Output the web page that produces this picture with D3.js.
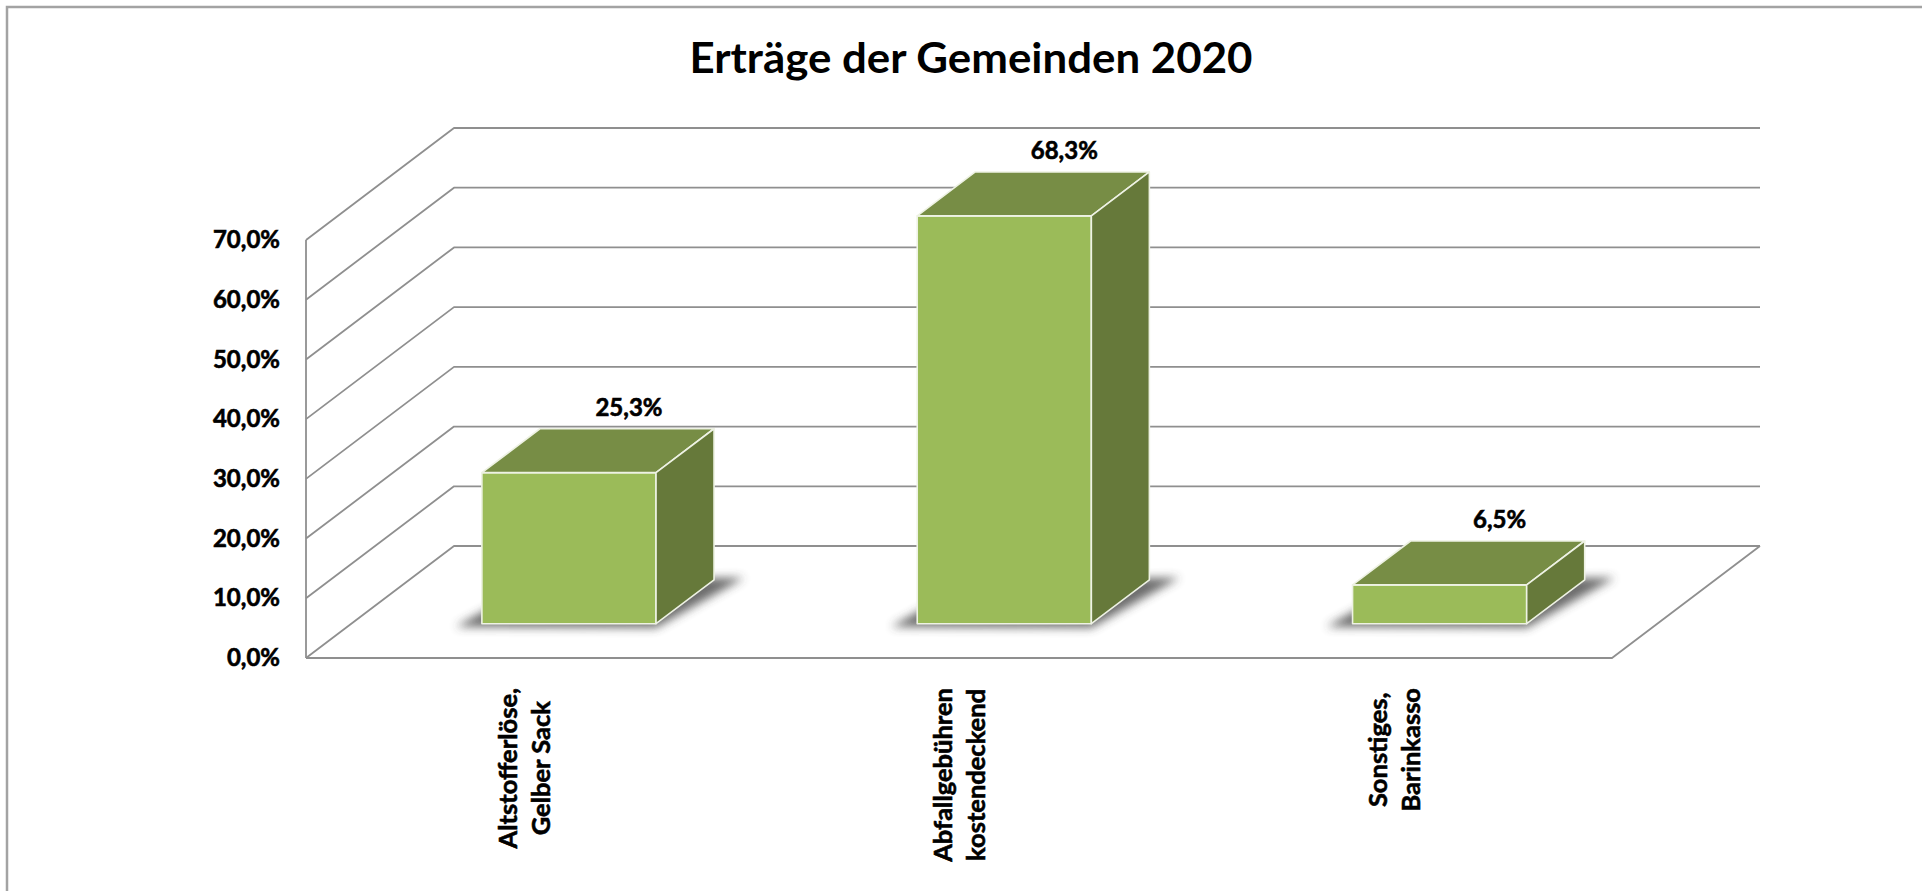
<!DOCTYPE html>
<meta charset="utf-8">
<body style="margin:0;background:#fff;overflow:hidden">
<script src="https://d3js.org/d3.v7.min.js"></script>
<div id="my_dataviz"></div>
</body>

<script>

// Data
const categories = ["Altstofferlöse,\nGelber Sack", "Abfallgebühren\nkostendeckend", "Sonstiges,\nBarinkasso"]
const values = [25.3, 68.3, 6.5]
const yTicks = [0, 10, 20, 30, 40, 50, 60, 70]
const title = "Erträge der Gemeinden 2020"

var width = 1922, height = 891

// front plane of the 3d box, and the vector that goes to the back wall
var front = {left: 306, right: 1612, bottom: 658, top: 240}
var depth = {dx: 148, dy: -112}
// the bars sit in the middle of the depth
var zFront = 0.306, zBack = 0.698

var de = d3.formatLocale({decimal: ",", thousands: ".", grouping: [3], currency: ["", " €"]})
var pct = function(v) { return de.format(".1f")(v) + "%" }

var font = "Lato, 'Open Sans', sans-serif"

var svg = d3.select("#my_dataviz")
  .append("svg")
    .attr("width", width)
    .attr("height", height)

// shadow filter
svg.append("defs")
  .append("filter")
    .attr("id", "blur")
    .attr("x", "-50%").attr("y", "-50%").attr("width", "200%").attr("height", "200%")
  .append("feGaussianBlur")
    .attr("stdDeviation", 5)

// frame
svg.append("path")
  .attr("d", "M7," + height + "V7H" + width)
  .style("fill", "none")
  .style("stroke", "#a3a3a3")
  .style("stroke-width", 2.5)

// X scale (front plane) and Y scale
var x = d3.scaleBand()
  .domain(categories)
  .range([front.left, front.right])
  .paddingInner(0.6)
  .paddingOuter(0.3)

var y = d3.scaleLinear()
  .domain([0, 70])
  .range([front.bottom, front.top])

// project a point of the front plane to a depth fraction z
function p(px, py, z) {
  return [px + z * depth.dx, py + z * depth.dy]
}

// heavy bold text, a bit thicker than Lato bold
function heavy(sel, size) {
  sel.style("font-family", font)
    .style("font-weight", 700)
    .style("font-size", size)
    .style("stroke", "#000")
    .style("stroke-width", 0.6)
}

// gridlines on side wall and back wall
var grid = svg.append("g")
  .style("fill", "none")
  .style("stroke", "#8f8f8f")
  .style("stroke-width", 1.8)
  .style("stroke-linejoin", "round")

grid.selectAll(".gridline")
  .data(yTicks)
  .join("path")
    .attr("class", "gridline")
    .attr("d", function(v) {
      return d3.line()([p(front.left, y(v), 0), p(front.left, y(v), 1), p(front.right, y(v), 1)])
    })

// floor and front axis
grid.append("path")
  .attr("d", d3.line()([p(front.left, y(0), 0), p(front.right, y(0), 0), p(front.right, y(0), 1)]))
grid.append("path")
  .attr("d", d3.line()([p(front.left, y(0), 0), p(front.left, y(70), 0)]))

// tick labels
svg.append("g")
  .selectAll("text")
  .data(yTicks)
  .join("text")
    .attr("x", front.left - 26)
    .attr("y", function(v) { return y(v) + 2 })
    .attr("text-anchor", "end")
    .attr("dominant-baseline", "middle")
    .call(heavy, "24px")
    .text(pct)

// bars
var bw = x.bandwidth()
var bdx = (zBack - zFront) * depth.dx, bdy = (zBack - zFront) * depth.dy

var bar = svg.selectAll(".bar")
  .data(values.map(function(v, i) { return {cat: categories[i], value: v} }))
  .join("g")
    .attr("class", "bar")
    .each(function(d) {
      var g = d3.select(this)
      var x0 = p(x(d.cat), 0, zFront)[0], x1 = x0 + bw
      var yT = p(0, y(d.value), zFront)[1], yB = p(0, y(0), zFront)[1]

      g.append("path")
        .attr("d", d3.line()([[x0 - 26, yB + 3], [x1, yB + 4], [x1 + bdx + 30, yB + bdy - 2], [x0 + bdx, yB + bdy]]) + "Z")
        .style("fill", "#3a3a3a")
        .style("opacity", 0.75)
        .attr("filter", "url(#blur)")

      var faces = [
        {d: [[x0, yT], [x1, yT], [x1, yB], [x0, yB]], c: "#9bbb59"},
        {d: [[x0, yT], [x0 + bdx, yT + bdy], [x1 + bdx, yT + bdy], [x1, yT]], c: "#778d45"},
        {d: [[x1, yT], [x1 + bdx, yT + bdy], [x1 + bdx, yB + bdy], [x1, yB]], c: "#66793a"}
      ]
      g.selectAll(".face")
        .data(faces)
        .join("path")
          .attr("class", "face")
          .attr("d", function(f) { return d3.line()(f.d) + "Z" })
          .style("fill", function(f) { return f.c })
          .style("stroke", "#eef2e4")
          .style("stroke-width", 1.6)
          .style("stroke-linejoin", "round")

      g.append("text")
        .attr("x", x0 + bw / 2 + bdx + 2)
        .attr("y", yT + bdy - 13)
        .attr("text-anchor", "middle")
        .call(heavy, "24px")
        .text(pct(d.value))
    })

// category labels, turned upright
var labelTop = 688
svg.selectAll(".cat")
  .data(categories)
  .join("g")
    .attr("class", "cat")
    .attr("transform", function(c) { return "translate(" + (x(c) + bw / 2) + "," + labelTop + ") rotate(-90)" })
    .each(function(c) {
      var g = d3.select(this)
      var lines = c.split("\n")
      var t = g.selectAll("text")
        .data(lines)
        .join("text")
          .attr("y", function(l, i) { return -7 + i * 33 })
          .attr("text-anchor", "middle")
          .call(heavy, "25.5px")
          .text(function(l) { return l })
      var maxLen = d3.max(t.nodes(), function(n) { return n.getComputedTextLength() })
      t.attr("x", -maxLen / 2)
    })

// title
svg.append("text")
  .attr("x", 971)
  .attr("y", 73)
  .attr("text-anchor", "middle")
  .attr("textLength", 563)
  .attr("lengthAdjust", "spacingAndGlyphs")
  .style("font-family", font)
  .style("font-weight", 700)
  .style("font-size", "42px")
  .text(title)

</script>
